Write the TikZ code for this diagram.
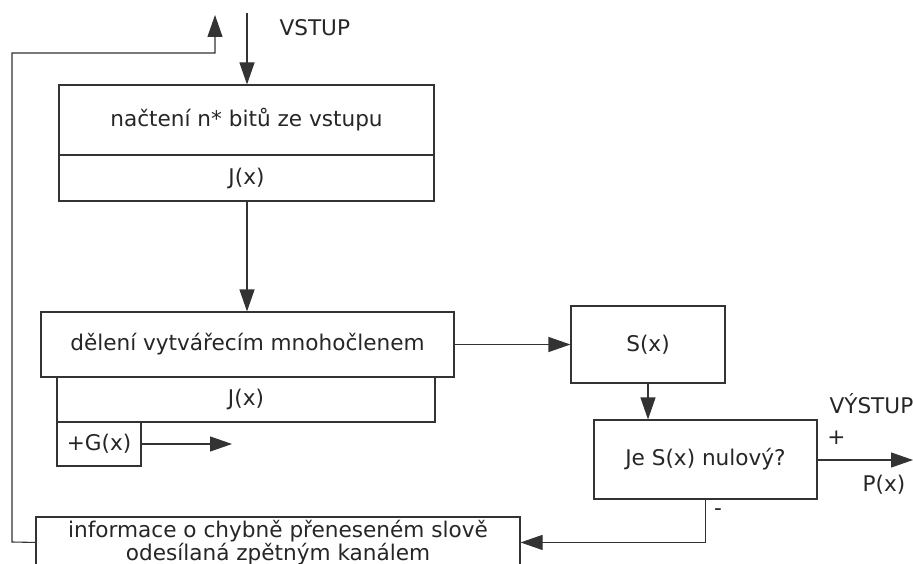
\documentclass[tikz,border=0pt]{standalone}
\usepackage{fontspec}
\setmainfont{DejaVu Sans}
\usetikzlibrary{arrows.meta}
\begin{document}
\begin{tikzpicture}[x=1pt,y=-1pt,
  line width=1.1pt,
  box/.style={draw=black!80, line width=1.1pt, rectangle, inner sep=0pt, text=black!85,
    font=\fontsize{21.6}{23}\selectfont, align=center},
  lbl/.style={inner sep=0pt, text=black!85, font=\fontsize{21.6}{23}\selectfont},
  arr/.style={-{Triangle[length=22pt,width=15pt]}, draw=black!80, line width=1.1pt}]
\useasboundingbox (0,0) rectangle (913,564);
\fill[white] (0,0) rectangle (913,564);
\clip (0,0) rectangle (913,564);
% boxes
\node[box, minimum width=375pt, minimum height=70pt] (b1) at (246.5,120) {načtení n* bitů ze vstupu};
\node[box, minimum width=375pt, minimum height=46pt] (b1j) at (246.5,178) {J(x)};
\node[box, minimum width=413pt, minimum height=65pt] (b2) at (247.5,344.5) {dělení vytvářecím mnohočlenem};
\node[box, minimum width=378pt, minimum height=45pt] (b2j) at (246,399.5) {J(x)};
\node[box, minimum width=84pt, minimum height=44pt] (g) at (99,444) {+G(x)};
\node[box, minimum width=154pt, minimum height=77pt] (s) at (648,344.5) {S(x)};
\node[box, minimum width=223pt, minimum height=79pt] (d) at (705.5,459.5) {Je S(x) nulový?};
\node[box, minimum width=484pt, minimum height=52pt] (bot) at (278,543) {informace o chybně přeneseném slově\\odesílaná zpětným kanálem};
% free ends
\coordinate (in) at (247,13);
\coordinate (fbtop) at (215,15);
\coordinate (gout) at (232,444);
\coordinate (out) at (913,460);
% labels
\node[lbl, anchor=west] (vstup) at (279,28) {VSTUP};
\node[lbl, anchor=west] (vystup) at (829,404) {VÝSTUP};
\node[lbl] (plus) at (836.5,438) {+};
\node[lbl, anchor=west] (px) at (862,485) {P(x)};
\node[lbl] (minus) at (718,512) {-};
% connectors
\draw[arr] (in) -- (b1.north -| in);
\draw[arr] (bot.north west) ++(0,26) coordinate (fbl) -- (12,542) -- (12,53) -- (215,53) -- (fbtop);
\draw[arr] (b1j.south -| in) -- (b2.north -| in);
\draw[arr] (b2.east |- s.west) -- (s.west);
\draw[arr] (s.south) -- (s.south |- d.north);
\draw[arr] (d.east |- out) -- (out);
\draw[arr] (d.south) -- (d.south |- fbl) -- (bot.east |- fbl);
\draw[arr] (g.east) -- (gout);
\end{tikzpicture}
\end{document}
